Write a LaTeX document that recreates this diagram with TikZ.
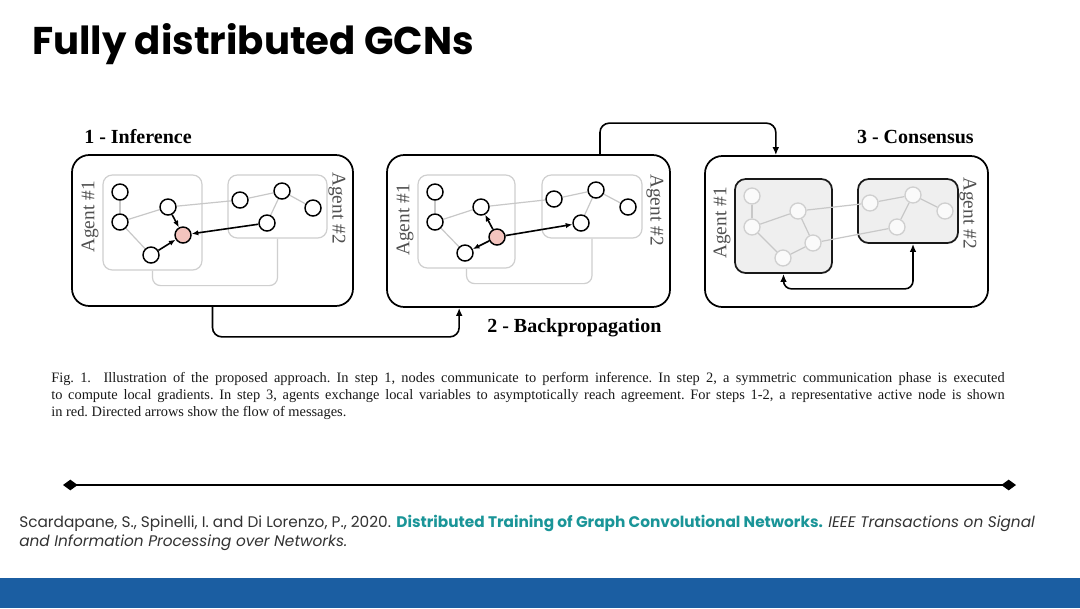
\documentclass[tikz,border=0pt]{standalone}
\usepackage{fontspec}
\setmainfont{Liberation Serif}
\newfontfamily\popfont{Poppins}
\usetikzlibrary{arrows.meta,fit}
\definecolor{teal1}{HTML}{1A9598}
\definecolor{barblue}{HTML}{1B5EA2}
\definecolor{edgegray}{HTML}{C8C8C8}
\definecolor{boxgray}{HTML}{CFCFCF}
\definecolor{redfill}{HTML}{F4C4BE}
\definecolor{agenttext}{HTML}{505050}
\definecolor{consfill}{HTML}{EFEFEF}
\pgfdeclarelayer{bg}\pgfdeclarelayer{edges}\pgfsetlayers{bg,edges,main}
\tikzset{
 panel/.style={draw=black, line width=1.3pt, rounded corners=13pt, inner sep=0pt},
 agentbox/.style={draw=boxgray, line width=0.9pt, rounded corners=7pt, inner sep=0pt},
 consbox/.style={draw=black!90, fill=consfill, line width=1.3pt, rounded corners=8pt, inner sep=0pt},
 gn/.style={circle, draw=black, fill=white, line width=1.1pt, minimum size=12pt, inner sep=0pt},
 rn/.style={gn, fill=redfill},
 cn/.style={circle, draw=boxgray, fill=white!96!gray, line width=1pt, minimum size=12pt, inner sep=0pt},
 ge/.style={draw=edgegray, line width=0.9pt},
 msg/.style={draw=black, line width=1.2pt, -{Latex[length=5pt,width=4pt]}},
 link/.style={draw=boxgray, line width=0.9pt, rounded corners=6pt},
 flow/.style={draw=black, line width=1.2pt, rounded corners=7pt, -{Latex[length=6pt,width=5pt]}},
 conslink/.style={draw=black, line width=1.2pt, rounded corners=6pt, {Latex[length=6pt,width=5pt]}-{Latex[length=6pt,width=5pt]}},
 steptitle/.style={font=\bfseries\fontsize{15}{18}\selectfont, inner sep=0pt},
 agentlbl/.style={font=\fontsize{14.5}{16}\selectfont, text=agenttext, inner sep=0pt},
}
\begin{document}
\begin{tikzpicture}[x=0.75pt,y=-0.75pt]
\useasboundingbox (0,0) rectangle (1080,608);
\begin{pgfonlayer}{bg}
\fill[white] (0,0) rectangle (1080,608);
\end{pgfonlayer}
\node[anchor=west, font=\popfont\bfseries\fontsize{29}{34}\selectfont, inner sep=0pt] (title) at (32,44) {Fully distributed GCNs};

\begin{pgfonlayer}{bg}
\node[panel, fit={(72,155)(353,306)}] (p1) {};
\node[panel, fit={(387,155)(670,307)}] (p2) {};
\node[panel, fit={(705,156)(988,307)}] (p3) {};
\node[agentbox, fit={(103,175)(202,270)}] (p1-a1) {};
\node[agentbox, fit={(228,175)(327,238)}] (p1-a2) {};
\node[agentbox, fit={(418,175)(515,268)}] (p2-a1) {};
\node[agentbox, fit={(542,175)(642,238)}] (p2-a2) {};
\node[consbox, fit={(735,179)(832,273)}] (p3-a1) {};
\node[consbox, fit={(858,179)(958,243)}] (p3-a2) {};
\draw[link] (p1-a1.south) -- ++(0,15) -| (p1-a2.south);
\draw[link] (p2-a1.south) -- ++(0,15) -| (p2-a2.south);
\end{pgfonlayer}
\draw[conslink] (p3-a1.south) -- ++(0,15) -| ([xshift=3.75pt]p3-a2.south);

% panel 1 nodes
\node[gn] (p1-n1) at (120,192) {};
\node[gn] (p1-n2) at (120,222) {};
\node[gn] (p1-n3) at (168,207) {};
\node[rn] (p1-r)  at (183,235) {};
\node[gn] (p1-n4) at (151,255) {};
\node[gn] (p1-a)  at (240,200) {};
\node[gn] (p1-b)  at (282,191) {};
\node[gn] (p1-c)  at (313,208) {};
\node[gn] (p1-d)  at (267,223) {};
% panel 2 nodes
\node[gn] (p2-n1) at (435,192) {};
\node[gn] (p2-n2) at (435,222) {};
\node[gn] (p2-n3) at (481,207) {};
\node[rn] (p2-r)  at (497,237) {};
\node[gn] (p2-n4) at (465,253) {};
\node[gn] (p2-a)  at (554,199) {};
\node[gn] (p2-b)  at (596,190) {};
\node[gn] (p2-c)  at (628,207) {};
\node[gn] (p2-d)  at (581,223) {};
% panel 3 nodes
\node[cn] (p3-n1) at (752,196) {};
\node[cn] (p3-n2) at (752,227) {};
\node[cn] (p3-n3) at (798,211) {};
\node[cn] (p3-r)  at (813,243) {};
\node[cn] (p3-n4) at (783,258) {};
\node[cn] (p3-a)  at (870,203) {};
\node[cn] (p3-b)  at (913,195) {};
\node[cn] (p3-c)  at (945,211) {};
\node[cn] (p3-d)  at (897,227) {};

\begin{pgfonlayer}{edges}
\foreach \p in {p1,p2,p3}{
  \draw[ge] (\p-n1) -- (\p-n2);
  \draw[ge] (\p-n2) -- (\p-n3);
  \draw[ge] (\p-n3) -- (\p-a);
  \draw[ge] (\p-a) -- (\p-b);
  \draw[ge] (\p-b) -- (\p-c);
  \draw[ge] (\p-b) -- (\p-d);
  \draw[ge] (\p-n2) -- (\p-n4);
}
\draw[ge] (p3-n3) -- (p3-r);
\draw[ge] (p3-n4) -- (p3-r);
\draw[ge] (p3-r) -- (p3-d);
\end{pgfonlayer}

\draw[msg] (p1-n3) -- (p1-r);
\draw[msg] (p1-n4) -- (p1-r);
\draw[msg] (p1-d) -- (p1-r);
\draw[msg] (p2-r) -- (p2-n3);
\draw[msg] (p2-r) -- (p2-n4);
\draw[msg] (p2-r) -- (p2-d);

% agent labels
\node[agentlbl, rotate=90]  (p1-l1) at (90,217) {Agent \#1};
\node[agentlbl, rotate=-90] (p1-l2) at (337,208) {Agent \#2};
\node[agentlbl, rotate=90]  (p2-l1) at (405,220) {Agent \#1};
\node[agentlbl, rotate=-90] (p2-l2) at (655,210) {Agent \#2};
\node[agentlbl, rotate=90]  (p3-l1) at (722,223) {Agent \#1};
\node[agentlbl, rotate=-90] (p3-l2) at (968,213) {Agent \#2};

% step titles
\node[steptitle, anchor=west] (t1) at (84,137) {1 - Inference};
\node[steptitle, anchor=west] (t2) at (487,328) {2 - Backpropagation};
\node[steptitle, anchor=east] (t3) at (974,137) {3 - Consensus};

% flow arrows
\draw[flow] (p1.south) -- ++(0,30) -| ([xshift=-52pt]p2.south);
\draw[flow] ([xshift=53.6pt]p2.north) -- ++(0,-31) -| ([xshift=-53pt]p3.north);

% caption
\node[anchor=north west, text width=715pt, align=justify, inner sep=0pt, text=black!90,
      font=\frenchspacing\fontsize{10.8}{12.75}\selectfont] (cap) at (51,372)
 {Fig. 1.\ \ Illustration of the proposed approach. In step 1, nodes communicate to perform inference. In step 2, a symmetric communication phase is executed\linebreak to compute local gradients. In step 3, agents exchange local variables to asymptotically reach agreement. For steps 1-2, a representative active node is shown\linebreak in red. Directed arrows show the flow of messages.};

% separator line
\coordinate (hl) at (63,485);
\coordinate (hr) at (1016,485);
\draw[line width=2.2pt, {Diamond[length=11pt,width=8pt]}-{Diamond[length=11pt,width=8pt]}] (hl) -- (hr);

% citation
\node[anchor=north west, align=left, inner sep=0pt, text=black!80,
      font=\popfont\fontsize{11.5}{14.25}\selectfont] (cite) at (19,515)
 {Scardapane, S., Spinelli, I. and Di Lorenzo, P., 2020. {\bfseries\color{teal1}Distributed Training of Graph Convolutional Networks.} \textit{IEEE Transactions on Signal}\\\textit{and Information Processing over Networks.}};

\fill[barblue] (0,578) rectangle (1080,608);
\end{tikzpicture}
\end{document}
